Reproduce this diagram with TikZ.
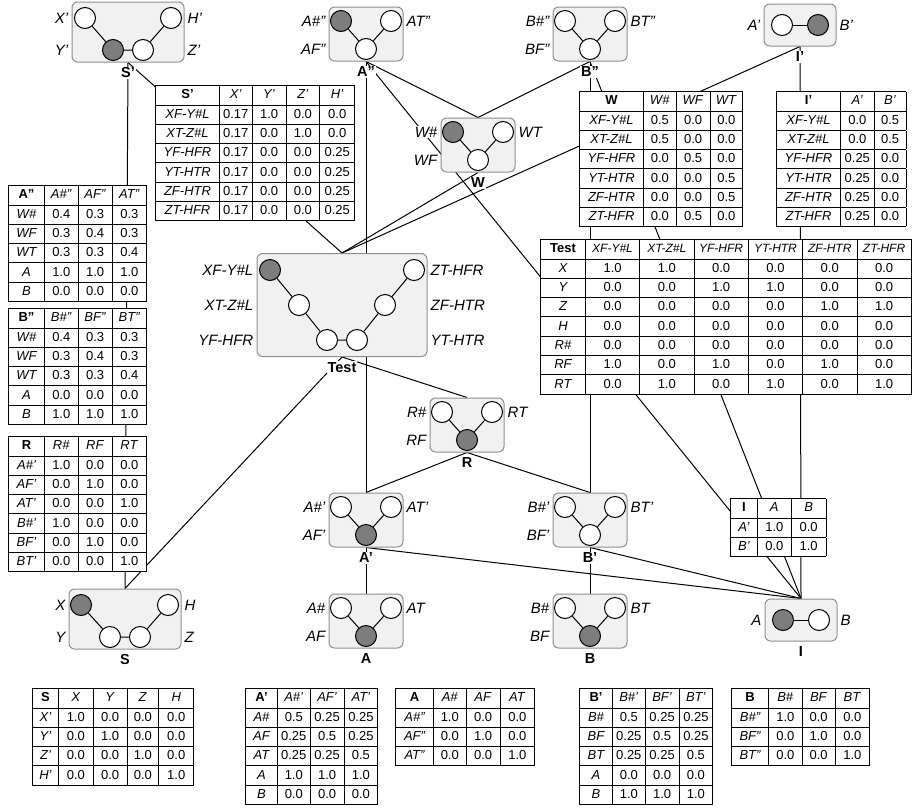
\documentclass[tikz,border=0pt]{standalone}
\usepackage{fontspec}
\setmainfont{Liberation Sans}
\usepackage{array}
\usetikzlibrary{positioning,backgrounds}
\definecolor{NetFill}{HTML}{F0F1F0}
\definecolor{NetEdge}{HTML}{8F8F8F}
\definecolor{ObsGray}{HTML}{7D7D7D}
\newcolumntype{L}[1]{>{\centering\arraybackslash\itshape}p{#1}}
\newcolumntype{C}[1]{>{\centering\arraybackslash}p{#1}}
\setlength{\tabcolsep}{0pt}
\setlength{\arrayrulewidth}{0.8pt}
\newcommand{\thd}[1]{{\fontsize{12}{12}\selectfont\itshape #1}}

\begin{document}
\begin{tikzpicture}[
    x=1pt, y=-1pt,
    netbox/.style={draw=NetEdge, fill=NetFill, line width=1pt,
      rounded corners=2mm, minimum width=74pt, minimum height=54pt,
      inner sep=0pt},
    widebox/.style={netbox, minimum width=112pt, minimum height=60pt},
    pairbox/.style={netbox, minimum width=72pt, minimum height=42pt},
    testbox/.style={netbox, minimum width=170pt, minimum height=103pt},
    var/.style={circle, draw, line width=1pt, fill=white,
      minimum size=21pt, inner sep=0pt},
    obs/.style={var, fill=ObsGray},
    vlab/.style={font=\fontsize{15}{17}\selectfont\itshape, fill=white,
      inner sep=1pt},
    nlab/.style={font=\fontsize{14.5}{17}\selectfont\bfseries, fill=white,
      inner sep=1pt},
    tbl/.style={anchor=north west, fill=white, inner sep=0pt,
      font=\fontsize{13}{18.5}\selectfont},
    link/.style={line width=1pt}
  ]
  \useasboundingbox (0,0) rectangle (915,809);

  % S'
  \node[widebox] (Sp) at (128,32) {};
  \node[var] (Sp1) at (85,18) {};
  \node[var] (Sp2) at (171,18) {};
  \node[obs] (Sp3) at (113,50) {};
  \node[var] (Sp4) at (143,50) {};
  \draw[link] (Sp1) -- (Sp3) -- (Sp4) -- (Sp2);
  \node[vlab, anchor=east, xshift=-2pt] at (Sp.west |- Sp1) {X'};
  \node[vlab, anchor=east, xshift=-2pt] at (Sp.west |- Sp3) {Y'};
  \node[vlab, anchor=west, xshift=2pt] at (Sp.east |- Sp2) {H'};
  \node[vlab, anchor=west, xshift=2pt] at (Sp.east |- Sp4) {Z'};
  \node[nlab, below=4pt of Sp] (nSp) {S'};

  % A''
  \node[netbox] (App) at (366,34) {};
  \node[obs] (App1) at (341,21) {};
  \node[var] (App2) at (391,21) {};
  \node[var] (App3) at (366,49) {};
  \draw[link] (App1) -- (App3) -- (App2);
  \node[vlab, anchor=east, xshift=-2pt] at (App.west |- App1) {A\#''};
  \node[vlab, anchor=east, xshift=-2pt] at (App.west |- App3) {AF''};
  \node[vlab, anchor=west, xshift=2pt] at (App.east |- App2) {AT''};
  \node[nlab, below=4pt of App] (nApp) {A''};

  % B''
  \node[netbox] (Bpp) at (590,34) {};
  \node[var] (Bpp1) at (565,21) {};
  \node[var] (Bpp2) at (615,21) {};
  \node[var] (Bpp3) at (590,49) {};
  \draw[link] (Bpp1) -- (Bpp3) -- (Bpp2);
  \node[vlab, anchor=east, xshift=-2pt] at (Bpp.west |- Bpp1) {B\#''};
  \node[vlab, anchor=east, xshift=-2pt] at (Bpp.west |- Bpp3) {BF''};
  \node[vlab, anchor=west, xshift=2pt] at (Bpp.east |- Bpp2) {BT''};
  \node[nlab, below=4pt of Bpp] (nBpp) {B''};

  % I'
  \node[pairbox] (Ip) at (800,25) {};
  \node[var] (Ip1) at (782,25) {};
  \node[obs] (Ip2) at (818,25) {};
  \draw[link] (Ip1) -- (Ip2);
  \node[vlab, anchor=east, xshift=-2pt] at (Ip.west |- Ip1) {A'};
  \node[vlab, anchor=west, xshift=2pt] at (Ip.east |- Ip2) {B'};
  \node[nlab, below=4pt of Ip] (nIp) {I'};

  % W
  \node[netbox] (W) at (478,145) {};
  \node[obs] (W1) at (453,132) {};
  \node[var] (W2) at (503,132) {};
  \node[var] (W3) at (478,160) {};
  \draw[link] (W1) -- (W3) -- (W2);
  \node[vlab, anchor=east, xshift=-2pt] at (W.west |- W1) {W\#};
  \node[vlab, anchor=east, xshift=-2pt] at (W.west |- W3) {WF};
  \node[vlab, anchor=west, xshift=2pt] at (W.east |- W2) {WT};
  \node[nlab, below=4pt of W] (nW) {W};

  % Test
  \node[testbox] (Test) at (342,305) {};
  \node[obs] (Test1) at (270,270) {};
  \node[var] (Test2) at (299,305) {};
  \node[var] (Test3) at (327,340) {};
  \node[var] (Test4) at (357,340) {};
  \node[var] (Test5) at (385,305) {};
  \node[var] (Test6) at (414,270) {};
  \draw[link] (Test1) -- (Test2) -- (Test3) -- (Test4) -- (Test5) -- (Test6);
  \node[vlab, anchor=east, xshift=-2pt] at (Test.west |- Test1) {XF-Y\#L};
  \node[vlab, anchor=east, xshift=-2pt] at (Test.west |- Test2) {XT-Z\#L};
  \node[vlab, anchor=east, xshift=-2pt] at (Test.west |- Test3) {YF-HFR};
  \node[vlab, anchor=west, xshift=2pt] at (Test.east |- Test6) {ZT-HFR};
  \node[vlab, anchor=west, xshift=2pt] at (Test.east |- Test5) {ZF-HTR};
  \node[vlab, anchor=west, xshift=2pt] at (Test.east |- Test4) {YT-HTR};
  \node[nlab, below=4pt of Test] (nTest) {Test};

  % R
  \node[netbox] (R) at (467,425) {};
  \node[var] (R1) at (442,412) {};
  \node[var] (R2) at (492,412) {};
  \node[obs] (R3) at (467,440) {};
  \draw[link] (R1) -- (R3) -- (R2);
  \node[vlab, anchor=east, xshift=-2pt] at (R.west |- R1) {R\#};
  \node[vlab, anchor=east, xshift=-2pt] at (R.west |- R3) {RF};
  \node[vlab, anchor=west, xshift=2pt] at (R.east |- R2) {RT};
  \node[nlab, below=4pt of R] (nR) {R};

  % A'
  \node[netbox] (Ap) at (366,520) {};
  \node[var] (Ap1) at (341,507) {};
  \node[var] (Ap2) at (391,507) {};
  \node[obs] (Ap3) at (366,535) {};
  \draw[link] (Ap1) -- (Ap3) -- (Ap2);
  \node[vlab, anchor=east, xshift=-2pt] at (Ap.west |- Ap1) {A\#'};
  \node[vlab, anchor=east, xshift=-2pt] at (Ap.west |- Ap3) {AF'};
  \node[vlab, anchor=west, xshift=2pt] at (Ap.east |- Ap2) {AT'};
  \node[nlab, below=4pt of Ap] (nAp) {A'};

  % B'
  \node[netbox] (Bp) at (590,520) {};
  \node[var] (Bp1) at (565,507) {};
  \node[var] (Bp2) at (615,507) {};
  \node[var] (Bp3) at (590,535) {};
  \draw[link] (Bp1) -- (Bp3) -- (Bp2);
  \node[vlab, anchor=east, xshift=-2pt] at (Bp.west |- Bp1) {B\#'};
  \node[vlab, anchor=east, xshift=-2pt] at (Bp.west |- Bp3) {BF'};
  \node[vlab, anchor=west, xshift=2pt] at (Bp.east |- Bp2) {BT'};
  \node[nlab, below=4pt of Bp] (nBp) {B'};

  % A
  \node[netbox] (A) at (366,621) {};
  \node[var] (A1) at (341,608) {};
  \node[var] (A2) at (391,608) {};
  \node[obs] (A3) at (366,636) {};
  \draw[link] (A1) -- (A3) -- (A2);
  \node[vlab, anchor=east, xshift=-2pt] at (A.west |- A1) {A\#};
  \node[vlab, anchor=east, xshift=-2pt] at (A.west |- A3) {AF};
  \node[vlab, anchor=west, xshift=2pt] at (A.east |- A2) {AT};
  \node[nlab, below=4pt of A] (nA) {A};

  % B
  \node[netbox] (B) at (590,621) {};
  \node[var] (B1) at (565,608) {};
  \node[var] (B2) at (615,608) {};
  \node[obs] (B3) at (590,636) {};
  \draw[link] (B1) -- (B3) -- (B2);
  \node[vlab, anchor=east, xshift=-2pt] at (B.west |- B1) {B\#};
  \node[vlab, anchor=east, xshift=-2pt] at (B.west |- B3) {BF};
  \node[vlab, anchor=west, xshift=2pt] at (B.east |- B2) {BT};
  \node[nlab, below=4pt of B] (nB) {B};

  % I
  \node[pairbox] (I) at (801,620) {};
  \node[obs] (I1) at (783,620) {};
  \node[var] (I2) at (819,620) {};
  \draw[link] (I1) -- (I2);
  \node[vlab, anchor=east, xshift=-2pt] at (I.west |- I1) {A};
  \node[vlab, anchor=west, xshift=2pt] at (I.east |- I2) {B};
  \node[nlab, below=4pt of I] (nI) {I};

  % S
  \node[widebox] (S) at (125,619) {};
  \node[obs] (S1) at (81,605) {};
  \node[var] (S2) at (168,605) {};
  \node[var] (S3) at (110,637) {};
  \node[var] (S4) at (140,637) {};
  \draw[link] (S1) -- (S3) -- (S4) -- (S2);
  \node[vlab, anchor=east, xshift=-2pt] at (S.west |- S1) {X};
  \node[vlab, anchor=east, xshift=-2pt] at (S.west |- S3) {Y};
  \node[vlab, anchor=west, xshift=2pt] at (S.east |- S2) {H};
  \node[vlab, anchor=west, xshift=2pt] at (S.east |- S4) {Z};
  \node[nlab, below=4pt of S] (nS) {S};

  % links between the networks
  \begin{scope}[on background layer]
    \draw[link] (Sp.south) -- (Test.north);
    \draw[link] (Sp.south) -- (S.north);
    \draw[link] (App.south) -- (W.north);
    \draw[link] (Bpp.south) -- (W.north);
    \draw[link] (App.south) -- (A.north);
    \draw[link] (Bpp.south) -- (B.north);
    \draw[link] (App.south) -- (I.north);
    \draw[link] (Bpp.south) -- (I.north);
    \draw[link] (Ip.south) -- (I.north);
    \draw[link] (Test.north) -- (W.south);
    \draw[link] (Test.north) -- (Ip.south);
    \draw[link] (Test.south) -- (R.north);
    \draw[link] (Test.south) -- (S.north);
    \draw[link] (R.south) -- (Ap.north);
    \draw[link] (R.south) -- (Bp.north);
    \draw[link] (Ap.south) -- (A.north);
    \draw[link] (Bp.south) -- (B.north);
    \draw[link] (Ap.south) -- (I.north);
    \draw[link] (Bp.south) -- (I.north);
  \end{scope}

  % tables
  \node[tbl] (tabSp) at (155,85) {%
    \begin{tabular}{|L{63pt}|C{32pt}|C{33pt}|C{33pt}|C{34pt}|}\hline
    {\upshape\bfseries S'} & \textit{X'} & \textit{Y'} & \textit{Z'} & \textit{H'}\\\hline
    XF-Y\#L & 0.17 & 1.0 & 0.0 & 0.0\\\hline
    XT-Z\#L & 0.17 & 0.0 & 1.0 & 0.0\\\hline
    YF-HFR & 0.17 & 0.0 & 0.0 & 0.25\\\hline
    YT-HTR & 0.17 & 0.0 & 0.0 & 0.25\\\hline
    ZF-HTR & 0.17 & 0.0 & 0.0 & 0.25\\\hline
    ZT-HFR & 0.17 & 0.0 & 0.0 & 0.25\\\hline
    \end{tabular}};

  \node[tbl] (tabW) at (579,91) {%
    \begin{tabular}{|L{63pt}|C{32pt}|C{33pt}|C{32pt}|}\hline
    {\upshape\bfseries W} & \textit{W\#} & \textit{WF} & \textit{WT}\\\hline
    XF-Y\#L & 0.5 & 0.0 & 0.0\\\hline
    XT-Z\#L & 0.5 & 0.0 & 0.0\\\hline
    YF-HFR & 0.0 & 0.5 & 0.0\\\hline
    YT-HTR & 0.0 & 0.0 & 0.5\\\hline
    ZF-HTR & 0.0 & 0.0 & 0.5\\\hline
    ZT-HFR & 0.0 & 0.5 & 0.0\\\hline
    \end{tabular}};

  \node[tbl] (tabIp) at (776,91) {%
    \begin{tabular}{|L{63pt}|C{33pt}|C{31pt}|}\hline
    {\upshape\bfseries I'} & \textit{A'} & \textit{B'}\\\hline
    XF-Y\#L & 0.0 & 0.5\\\hline
    XT-Z\#L & 0.0 & 0.5\\\hline
    YF-HFR & 0.25 & 0.0\\\hline
    YT-HTR & 0.25 & 0.0\\\hline
    ZF-HTR & 0.25 & 0.0\\\hline
    ZT-HFR & 0.25 & 0.0\\\hline
    \end{tabular}};

  \node[tbl] (tabTest) at (540,239) {%
    \begin{tabular}{|L{44pt}|C{53.5pt}|C{53.5pt}|C{53.5pt}|C{53.5pt}|C{53.5pt}|C{53.5pt}|}\hline
    {\upshape\bfseries Test} & \thd{XF-Y\#L} & \thd{XT-Z\#L} & \thd{YF-HFR}
      & \thd{YT-HTR} & \thd{ZF-HTR} & \thd{ZT-HFR}\\\hline
    X & 1.0 & 1.0 & 0.0 & 0.0 & 0.0 & 0.0\\\hline
    Y & 0.0 & 0.0 & 1.0 & 1.0 & 0.0 & 0.0\\\hline
    Z & 0.0 & 0.0 & 0.0 & 0.0 & 1.0 & 1.0\\\hline
    H & 0.0 & 0.0 & 0.0 & 0.0 & 0.0 & 0.0\\\hline
    R\# & 0.0 & 0.0 & 0.0 & 0.0 & 0.0 & 0.0\\\hline
    RF & 1.0 & 0.0 & 1.0 & 0.0 & 1.0 & 0.0\\\hline
    RT & 0.0 & 1.0 & 0.0 & 1.0 & 0.0 & 1.0\\\hline
    \end{tabular}};

  \node[tbl] (tabApp) at (8,185) {%
    \begin{tabular}{|L{35pt}|C{33pt}|C{33pt}|C{34pt}|}\hline
    {\upshape\bfseries A''} & \textit{A\#''} & \textit{AF''} & \textit{AT''}\\\hline
    W\# & 0.4 & 0.3 & 0.3\\\hline
    WF & 0.3 & 0.4 & 0.3\\\hline
    WT & 0.3 & 0.3 & 0.4\\\hline
    A & 1.0 & 1.0 & 1.0\\\hline
    B & 0.0 & 0.0 & 0.0\\\hline
    \end{tabular}};

  \node[tbl] (tabBpp) at (8,308) {%
    \begin{tabular}{|L{35pt}|C{33pt}|C{33pt}|C{34pt}|}\hline
    {\upshape\bfseries B''} & \textit{B\#''} & \textit{BF''} & \textit{BT''}\\\hline
    W\# & 0.4 & 0.3 & 0.3\\\hline
    WF & 0.3 & 0.4 & 0.3\\\hline
    WT & 0.3 & 0.3 & 0.4\\\hline
    A & 0.0 & 0.0 & 0.0\\\hline
    B & 1.0 & 1.0 & 1.0\\\hline
    \end{tabular}};

  \node[tbl] (tabR) at (8,436) {%
    \begin{tabular}{|L{35pt}|C{33pt}|C{33pt}|C{34pt}|}\hline
    {\upshape\bfseries R} & \textit{R\#} & \textit{RF} & \textit{RT}\\\hline
    A\#' & 1.0 & 0.0 & 0.0\\\hline
    AF' & 0.0 & 1.0 & 0.0\\\hline
    AT' & 0.0 & 0.0 & 1.0\\\hline
    B\#' & 1.0 & 0.0 & 0.0\\\hline
    BF' & 0.0 & 1.0 & 0.0\\\hline
    BT' & 0.0 & 0.0 & 1.0\\\hline
    \end{tabular}};

  \node[tbl] (tabI) at (730,498) {%
    \begin{tabular}{|L{26pt}|C{33pt}|C{34pt}|}\hline
    {\upshape\bfseries I} & \textit{A} & \textit{B}\\\hline
    A' & 1.0 & 0.0\\\hline
    B' & 0.0 & 1.0\\\hline
    \end{tabular}};

  \node[tbl] (tabS) at (32,688) {%
    \begin{tabular}{|L{25pt}|C{34pt}|C{33pt}|C{31pt}|C{34pt}|}\hline
    {\upshape\bfseries S} & \textit{X} & \textit{Y} & \textit{Z} & \textit{H}\\\hline
    X' & 1.0 & 0.0 & 0.0 & 0.0\\\hline
    Y' & 0.0 & 1.0 & 0.0 & 0.0\\\hline
    Z' & 0.0 & 0.0 & 1.0 & 0.0\\\hline
    H' & 0.0 & 0.0 & 0.0 & 1.0\\\hline
    \end{tabular}};

  \node[tbl] (tabAp) at (245,688) {%
    \begin{tabular}{|L{31pt}|C{32pt}|C{33pt}|C{33pt}|}\hline
    {\upshape\bfseries A'} & \textit{A\#'} & \textit{AF'} & \textit{AT'}\\\hline
    A\# & 0.5 & 0.25 & 0.25\\\hline
    AF & 0.25 & 0.5 & 0.25\\\hline
    AT & 0.25 & 0.25 & 0.5\\\hline
    A & 1.0 & 1.0 & 1.0\\\hline
    B & 0.0 & 0.0 & 0.0\\\hline
    \end{tabular}};

  \node[tbl] (tabA) at (395,688) {%
    \begin{tabular}{|L{37pt}|C{32pt}|C{33pt}|C{34pt}|}\hline
    {\upshape\bfseries A} & \textit{A\#} & \textit{AF} & \textit{AT}\\\hline
    A\#'' & 1.0 & 0.0 & 0.0\\\hline
    AF'' & 0.0 & 1.0 & 0.0\\\hline
    AT'' & 0.0 & 0.0 & 1.0\\\hline
    \end{tabular}};

  \node[tbl] (tabBp) at (579,688) {%
    \begin{tabular}{|L{32pt}|C{32pt}|C{33pt}|C{33pt}|}\hline
    {\upshape\bfseries B'} & \textit{B\#'} & \textit{BF'} & \textit{BT'}\\\hline
    B\# & 0.5 & 0.25 & 0.25\\\hline
    BF & 0.25 & 0.5 & 0.25\\\hline
    BT & 0.25 & 0.25 & 0.5\\\hline
    A & 0.0 & 0.0 & 0.0\\\hline
    B & 1.0 & 1.0 & 1.0\\\hline
    \end{tabular}};

  \node[tbl] (tabB) at (731,688) {%
    \begin{tabular}{|L{36pt}|C{33pt}|C{32pt}|C{34pt}|}\hline
    {\upshape\bfseries B} & \textit{B\#} & \textit{BF} & \textit{BT}\\\hline
    B\#'' & 1.0 & 0.0 & 0.0\\\hline
    BF'' & 0.0 & 1.0 & 0.0\\\hline
    BT'' & 0.0 & 0.0 & 1.0\\\hline
    \end{tabular}};
\end{tikzpicture}
\end{document}
